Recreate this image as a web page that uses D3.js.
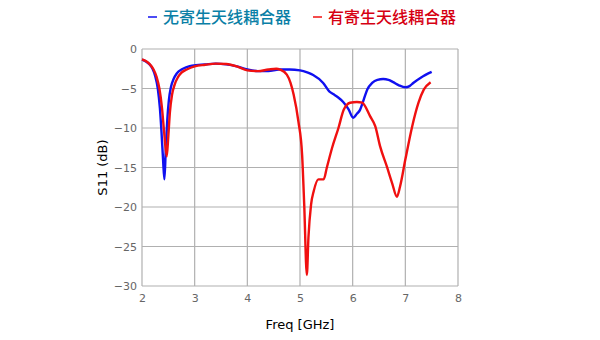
<!DOCTYPE html>
<html lang="zh">
<head>
<meta charset="UTF-8">
<title>S11</title>
<style>
  body { margin: 0; background: #fff; }
</style>
</head>
<body>
<script src="https://d3js.org/d3.v7.min.js"></script>
<script>
// 数据 (频率 GHz / S11 dB)
var seriesNames = ["无寄生天线耦合器", "有寄生天线耦合器"];
var xTicks = [2, 3, 4, 5, 6, 7, 8];
var yTicks = [0, -5, -10, -15, -20, -25, -30];

var blueFreq = [2.0, 2.08, 2.15, 2.2, 2.25, 2.3, 2.34, 2.37, 2.4, 2.425, 2.45, 2.48, 2.51, 2.55, 2.6, 2.66, 2.75, 2.85, 2.95, 3.2, 3.4, 3.6, 3.8, 4.0, 4.2, 4.4, 4.6, 4.8, 5.0, 5.15, 5.25, 5.44, 5.56, 5.63, 5.72, 5.82, 5.92, 6.01, 6.08, 6.14, 6.21, 6.28, 6.37, 6.47, 6.58, 6.68, 6.77, 6.88, 7.0, 7.08, 7.15, 7.3, 7.5];
var blueS11 = [-1.35, -1.6, -2.0, -2.5, -3.4, -5.0, -7.5, -10.5, -14, -16.5, -13, -9, -6.5, -4.8, -3.8, -3.1, -2.6, -2.3, -2.1, -1.95, -1.85, -1.95, -2.2, -2.6, -2.8, -2.8, -2.6, -2.6, -2.7, -3.0, -3.3, -4.3, -5.4, -5.7, -6.1, -6.7, -7.6, -8.7, -8.2, -7.7, -6.4, -5.1, -4.3, -3.9, -3.8, -3.9, -4.2, -4.6, -4.85, -4.7, -4.3, -3.6, -2.9];

var redFreq = [2.0, 2.08, 2.15, 2.22, 2.28, 2.33, 2.38, 2.42, 2.47, 2.5, 2.53, 2.57, 2.62, 2.68, 2.75, 2.85, 3.0, 3.2, 3.4, 3.6, 3.8, 4.0, 4.2, 4.4, 4.55, 4.62, 4.75, 4.82, 4.88, 4.97, 5.04, 5.08, 5.13, 5.16, 5.21, 5.26, 5.35, 5.45, 5.51, 5.61, 5.73, 5.83, 5.95, 6.08, 6.18, 6.33, 6.43, 6.52, 6.65, 6.75, 6.84, 6.9, 7.0, 7.13, 7.25, 7.35, 7.48];
var redS11 = [-1.3, -1.55, -1.95, -2.6, -3.6, -5.0, -7.5, -10.5, -13.6, -11, -8, -5.8, -4.5, -3.6, -3.0, -2.6, -2.2, -2.0, -1.85, -1.9, -2.2, -2.7, -2.8, -2.6, -2.5, -2.6, -3.25, -4.3, -5.8, -9.2, -13.4, -19.7, -28.6, -23.9, -19.7, -18.0, -16.5, -16.5, -15, -12.5, -10, -7.7, -6.8, -6.7, -6.8, -8.5, -9.8, -12.3, -14.9, -17, -18.7, -17.4, -14, -9.8, -6.8, -5.15, -4.2];

var width = 600, height = 340;
var margin = { left: 142, right: 142, top: 49, bottom: 54 };

var svg = d3.select("body").append("svg").attr("width", width).attr("height", height);

var x = d3.scaleLinear().domain([2, 8]).range([margin.left, width - margin.right]);
var y = d3.scaleLinear().domain([-30, 0]).range([height - margin.bottom, margin.top]);

// 网格
svg.append("g").selectAll("line").data(xTicks).enter().append("line")
  .attr("x1", function (d) { return x(d); }).attr("x2", function (d) { return x(d); })
  .attr("y1", y(0)).attr("y2", y(-30))
  .attr("stroke", "#b0b0b0").attr("stroke-width", 1.2);
svg.append("g").selectAll("line").data(yTicks).enter().append("line")
  .attr("y1", function (d) { return y(d); }).attr("y2", function (d) { return y(d); })
  .attr("x1", x(2)).attr("x2", x(8))
  .attr("stroke", "#b0b0b0").attr("stroke-width", 1.2);

// 坐标轴刻度
var xAxis = d3.axisBottom(x).tickValues(xTicks).tickSize(0).tickPadding(8).tickFormat(d3.format("d"));
var yAxis = d3.axisLeft(y).tickValues(yTicks).tickSize(0).tickPadding(5)
  .tickFormat(function (d) { return d < 0 ? "\u2212" + Math.abs(d) : d; });

var gx = svg.append("g").attr("transform", "translate(0," + y(-30) + ")").call(xAxis);
var gy = svg.append("g").attr("transform", "translate(" + x(2) + ",0)").call(yAxis);
[gx, gy].forEach(function (g) {
  g.select(".domain").remove();
  g.selectAll("text").attr("fill", "#666").style("font-family", "DejaVu Sans, sans-serif").style("font-size", "11px");
});

// 坐标轴标题
svg.append("text").attr("x", (x(2) + x(8)) / 2).attr("y", 329)
  .attr("text-anchor", "middle").style("font-family", "DejaVu Sans, sans-serif").style("font-size", "13px")
  .text("Freq [GHz]");
svg.append("text").attr("transform", "translate(107," + (y(-15)) + ") rotate(-90)")
  .attr("text-anchor", "middle").style("font-family", "DejaVu Sans, sans-serif").style("font-size", "13px")
  .text("S11 (dB)");

// 曲线
var line = d3.line()
  .x(function (d) { return x(d[0]); })
  .y(function (d) { return y(d[1]); })
  .curve(d3.curveMonotoneX);

var blueData = blueFreq.map(function (f, i) { return [f, blueS11[i]]; });
var redData = redFreq.map(function (f, i) { return [f, redS11[i]]; });

svg.append("path").datum(blueData).attr("d", line)
  .attr("fill", "none").attr("stroke", "#1010f0").attr("stroke-width", 2.4).attr("stroke-linejoin", "round");
svg.append("path").datum(redData).attr("d", line)
  .attr("fill", "none").attr("stroke", "#f01010").attr("stroke-width", 2.4).attr("stroke-linejoin", "round");

// 图例
var legend = [
  { name: seriesNames[0], line: "#1010f0", text: "#0a7fa6", x: 148 },
  { name: seriesNames[1], line: "#f01010", text: "#d60012", x: 313 }
];
legend.forEach(function (l) {
  svg.append("line").attr("x1", l.x).attr("x2", l.x + 9).attr("y1", 17).attr("y2", 17)
    .attr("stroke", l.line).attr("stroke-width", 1.5);
  svg.append("text").attr("x", l.x + 15).attr("y", 23)
    .style("font-family", "Noto Sans CJK SC, sans-serif").style("font-size", "16px").style("font-weight", "500")
    .attr("fill", l.text).text(l.name);
});
</script>
</body>
</html>
